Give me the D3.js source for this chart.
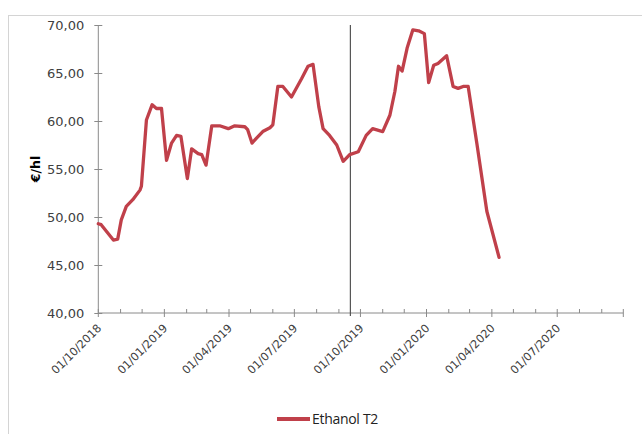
<!DOCTYPE html>
<html>
<head>
<meta charset="utf-8">
<script src="https://cdn.jsdelivr.net/npm/d3@7"></script>
<style>
    body { margin: 0; background: #fff; }
    .tick text { fill: #404040; }
</style>
</head>
<body>
<script>
var seriesName = "Ethanol T2";

var priceDates = [
    "2018-10-01", "2018-10-05", "2018-10-22", "2018-10-28", "2018-11-02", "2018-11-09",
    "2018-11-18", "2018-11-28", "2018-11-30", "2018-12-07", "2018-12-15", "2018-12-21",
    "2018-12-28", "2019-01-04", "2019-01-11", "2019-01-18", "2019-01-24", "2019-02-02",
    "2019-02-08", "2019-02-17", "2019-02-22", "2019-02-28", "2019-03-08", "2019-03-19",
    "2019-03-31", "2019-04-09", "2019-04-23", "2019-04-27", "2019-05-03", "2019-05-09",
    "2019-05-18", "2019-05-28", "2019-06-01", "2019-06-08", "2019-06-15", "2019-06-27",
    "2019-07-11", "2019-07-20", "2019-07-27", "2019-08-04", "2019-08-10", "2019-08-19",
    "2019-08-29", "2019-09-07", "2019-09-16", "2019-09-28", "2019-10-09", "2019-10-18",
    "2019-11-01", "2019-11-11", "2019-11-18", "2019-11-23", "2019-11-28", "2019-12-05",
    "2019-12-13", "2019-12-21", "2019-12-29", "2020-01-04", "2020-01-11", "2020-01-17",
    "2020-01-29", "2020-02-07", "2020-02-14", "2020-02-21", "2020-02-28", "2020-03-11",
    "2020-03-25", "2020-04-11"
];

var priceValues = [
    49.3, 49.2, 47.6, 47.7, 49.7, 51.1,
    51.8, 52.8, 53.2, 60.1, 61.7, 61.3,
    61.3, 55.9, 57.7, 58.5, 58.4, 54.0,
    57.1, 56.6, 56.5, 55.4, 59.5, 59.5,
    59.2, 59.5, 59.4, 59.1, 57.7, 58.2,
    58.9, 59.3, 59.6, 63.6, 63.6, 62.5,
    64.4, 65.7, 65.9, 61.5, 59.2, 58.5,
    57.5, 55.8, 56.5, 56.8, 58.5, 59.2,
    58.9, 60.6, 63.1, 65.7, 65.2, 67.6,
    69.5, 69.4, 69.1, 64.0, 65.8, 66.0,
    66.8, 63.6, 63.4, 63.6, 63.6, 57.7,
    50.6, 45.8
];

var xDomain = ["2018-10-01", "2020-10-01"];
var xTickLabels = ["01/10/2018", "01/01/2019", "01/04/2019", "01/07/2019",
                   "01/10/2019", "01/01/2020", "01/04/2020", "01/07/2020"];
var yTicks = [40, 45, 50, 55, 60, 65, 70];
var markerDate = "2019-09-17";


function priceChart() {

    this.init = function () {
        var svg = d3.select("body")
            .append("svg")
            .attr("width", 642)
            .attr("height", 434);

        this.parse = d3.timeParse("%Y-%m-%d");
        this.parseLabel = d3.timeParse("%d/%m/%Y");

        this.x = d3.scaleTime()
            .domain(xDomain.map(this.parse))
            .range([98.3, 623.3]);

        this.y = d3.scaleLinear()
            .domain([40, 70])
            .range([313, 25]);

        // light frame of the chart area
        svg.append("rect")
            .attr("x", 8.5)
            .attr("y", 15.5)
            .attr("width", 700)
            .attr("height", 500)
            .attr("fill", "none")
            .attr("stroke", "#d4d4d4");

        this.drawAxes(svg);
        this.drawMarker(svg);
        this.drawLine(svg);
        this.drawLegend(svg);
    };


    this.drawAxes = function (svg) {
        var self = this;
        var fmt = d3.formatLocale({decimal: ",", thousands: ".", grouping: [3], currency: ["", "€"]}).format(".2f");

        var yAxis = svg.append("g")
            .attr("transform", "translate(" + this.x.range()[0] + ",0)")
            .call(d3.axisLeft(this.y)
                .tickValues(yTicks)
                .tickFormat(fmt)
                .tickSize(4)
                .tickPadding(10));
        yAxis.selectAll(".tick line").attr("x1", 4);
        yAxis.selectAll(".tick text")
            .style("font-family", "DejaVu Sans")
            .style("font-size", "13px");
        yAxis.select(".domain").attr("d", "M0," + this.y(40) + "V" + this.y(70));
        yAxis.selectAll("line, path").attr("stroke", "#8a8a8a");

        // monthly minor ticks
        var months = d3.timeMonth.range(this.x.domain()[0], d3.timeDay.offset(this.x.domain()[1], 1));
        var xAxis = svg.append("g")
            .attr("transform", "translate(0," + this.y(40) + ")");

        xAxis.append("line")
            .attr("x1", this.x.range()[0])
            .attr("x2", this.x.range()[1])
            .attr("stroke", "#8a8a8a");

        xAxis.selectAll("line.tickmark")
            .data(months)
            .enter()
            .append("line")
            .attr("class", "tickmark")
            .attr("x1", function (d) { return self.x(d); })
            .attr("x2", function (d) { return self.x(d); })
            .attr("y1", -4)
            .attr("y2", function (d) { return d.getMonth() % 3 === 0 ? 4 : 0; })
            .attr("stroke", "#8a8a8a");

        xAxis.selectAll("text")
            .data(xTickLabels)
            .enter()
            .append("text")
            .attr("transform", function (d) {
                return "translate(" + (self.x(self.parseLabel(d)) + 1) + ",13) rotate(-45)";
            })
            .attr("text-anchor", "end")
            .attr("dy", "0.35em")
            .attr("fill", "#404040")
            .style("font-family", "DejaVu Sans")
            .style("font-size", "11.3px")
            .text(function (d) { return d; });

        svg.append("text")
            .attr("transform", "translate(36,169) rotate(-90)")
            .attr("text-anchor", "middle")
            .attr("dy", "0.35em")
            .attr("fill", "#000")
            .style("font-family", "DejaVu Sans")
            .style("font-weight", "bold")
            .style("font-size", "12.5px")
            .text("€/hl");
    };


    this.drawMarker = function (svg) {
        var mx = this.x(this.parse(markerDate));
        svg.append("line")
            .attr("x1", mx)
            .attr("x2", mx)
            .attr("y1", this.y(70))
            .attr("y2", this.y(40) + 3)
            .attr("stroke", "#555")
            .attr("stroke-width", 1.2);
    };


    this.drawLine = function (svg) {
        var self = this;
        var points = priceDates.map(function (d, i) {
            return {date: self.parse(d), value: priceValues[i]};
        });

        var line = d3.line()
            .x(function (d) { return self.x(d.date); })
            .y(function (d) { return self.y(d.value); });

        svg.append("path")
            .datum(points)
            .attr("d", line)
            .attr("fill", "none")
            .attr("stroke", "#c0404a")
            .attr("stroke-width", 3.3)
            .attr("stroke-linejoin", "round")
            .attr("stroke-linecap", "round");
    };


    this.drawLegend = function (svg) {
        var legend = svg.append("g");

        legend.append("line")
            .attr("x1", 277)
            .attr("x2", 310)
            .attr("y1", 419)
            .attr("y2", 419)
            .attr("stroke", "#c0404a")
            .attr("stroke-width", 4);

        legend.append("text")
            .attr("x", 312)
            .attr("y", 419)
            .attr("dy", "0.35em")
            .attr("fill", "#222")
            .style("font-family", "Open Sans")
            .style("font-size", "14px")
            .style("letter-spacing", "-0.3px")
            .text(seriesName);
    };

}


window.onload = function () {
    new priceChart().init();
};
</script>
</body>
</html>
